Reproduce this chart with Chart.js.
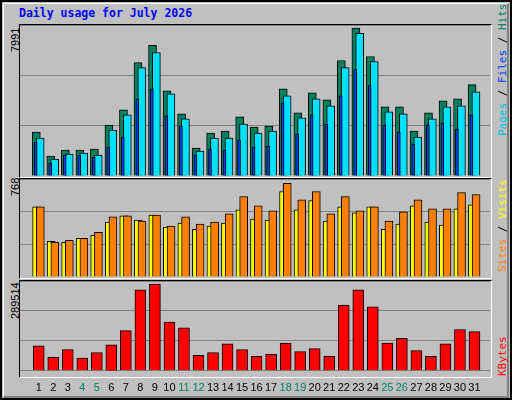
<!DOCTYPE html>
<html><head><meta charset="utf-8">
<script src="https://cdn.jsdelivr.net/npm/chart.js@4"></script>
<style>
body{margin:0;background:#fff}
#frame{position:absolute;left:0;top:0;width:508px;height:396px;background:#c0c0c0;border:2px solid #000}
#inner{position:absolute;left:1px;top:1px;width:503px;height:392px;border-left:1px solid #fff;border-top:1px solid #fff;border-right:2px solid #808080;border-bottom:2px solid #808080}
.t{position:absolute;font-family:"DejaVu Sans Mono",monospace;white-space:nowrap}
.rot{transform-origin:0 0;transform:rotate(-90deg)}
.panel{position:absolute;left:19px;width:471px;border-left:1px solid #000;border-top:1px solid #000;border-right:1px solid #fff;border-bottom:1px solid #fff;background:#c0c0c0}
canvas{position:absolute}
</style></head><body>
<div id="frame"><div id="inner"></div></div>
<div class="t" style="left:19px;top:6px;color:#0000ff;font-weight:bold;font-size:11.5px">Daily usage for July 2026</div>
<div class="panel" style="top:24px;height:152px"></div>
<div class="panel" style="top:178px;height:99px"></div>
<div class="panel" style="top:280px;height:96px"></div>
<div class="t rot" style="left:9px;top:52px;font-size:11px;color:#000;font-family:'Liberation Sans',sans-serif">7991</div>
<div class="t rot" style="left:9px;top:196px;font-size:11px;color:#000;font-family:'Liberation Sans',sans-serif">768</div>
<div class="t rot" style="left:9px;top:319px;font-size:11px;color:#000;font-family:'Liberation Sans',sans-serif">289514</div>
<div class="t rot" style="left:496px;top:136px;font-size:11px"><span style="color:#00c0e0">Pages</span><span style="color:#000"> / </span><span style="color:#0040ff">Files</span><span style="color:#000"> / </span><span style="color:#00805c">Hits</span></div>
<div class="t rot" style="left:496px;top:272px;font-size:11px"><span style="color:#ff8000">Sites</span><span style="color:#000"> / </span><span style="color:#ffff00">Visits</span></div>
<div class="t rot" style="left:496px;top:376px;font-size:11px;color:#ff0000">KBytes</div>
<canvas id="c1" style="left:20px;top:25px" width="470" height="151"></canvas>
<canvas id="c2" style="left:20px;top:179px" width="470" height="98"></canvas>
<canvas id="c3" style="left:20px;top:281px" width="470" height="117"></canvas>
<script>
const days=[1,2,3,4,5,6,7,8,9,10,11,12,13,14,15,16,17,18,19,20,21,22,23,24,25,26,27,28,29,30,31];
const weekend=[4,5,11,12,18,19,25,26];
const hits=[2375,1070,1397,1397,1451,2756,3571,6126,7050,4604,3354,1506,2321,2430,3191,2647,2702,4713,3408,4496,4115,6235,7991,6452,3735,3735,2430,3408,4061,4169,4930];
const pages=[2049,908,1180,1234,1125,2484,3300,5855,6670,4441,3082,1343,2049,2049,2810,2321,2430,4332,3136,4169,3789,5855,7703,6181,3463,3354,2104,3082,3735,3789,4550];
const files=[1832,690,1125,1125,1017,1560,2104,4169,4713,3245,2702,1125,1451,1397,1941,1560,1614,3952,2267,3300,2810,4332,5746,4876,2756,2375,1723,2756,2865,2539,3300];
const visits=[576,292,284,317,342,451,501,467,509,409,442,392,417,442,551,476,467,701,551,626,459,576,526,576,392,434,584,451,426,559,593];
const sites=[576,284,300,317,367,493,501,459,509,417,493,434,451,518,659,584,543,768,634,701,518,659,543,576,459,534,634,559,559,693,676];
const kbytes=[83473,45434,70793,42265,61284,86643,134190,270492,289514,162719,143700,51774,61284,89813,70793,48604,54944,92983,64453,73963,48604,219774,270492,213434,92983,108831,67623,48604,89813,137360,131020];

const pts=(arr,off)=>arr.map((v,i)=>({x:days[i]+off,y:v}));
const ds=(arr,off,color,w,order)=>({data:pts(arr,off),grouped:false,backgroundColor:color,borderColor:'#000',borderWidth:1,barThickness:w,order:order});
function opts(max,step,showX){
  return {responsive:false,animation:false,events:[],
    layout:{padding:0},
    plugins:{legend:{display:false},tooltip:{enabled:false}},
    scales:{
      x:{type:'linear',min:0.234,max:31.546,display:showX,
         grid:{display:false},border:{display:false},
         afterBuildTicks:s=>{s.ticks=days.map(d=>({value:d}));},
         ticks:{padding:3,autoSkip:false,maxRotation:0,font:{family:'Liberation Sans',size:11},
           color:c=>weekend.includes(c.tick&&c.tick.value)?'#008060':'#000',
           callback:v=>String(v)}},
      y:{min:0,max:max,ticks:{display:false,stepSize:step},border:{display:false},
         grid:{color:'#808080',lineWidth:1,drawTicks:false}}
    }};
}
new Chart(document.getElementById('c1'),{type:'bar',data:{datasets:[
  ds(files,-0.21,'#0040ff',3,0),
  ds(pages,0.1,'#00e0ff',8,1),
  ds(hits,-0.165,'#00805c',8,2)]},options:opts(8154,2718,false)});
new Chart(document.getElementById('c2'),{type:'bar',data:{datasets:[
  ds(sites,0.11,'#ff8000',8,0),
  ds(visits,-0.145,'#ffff00',8,1)]},options:opts(804,268,false)});
new Chart(document.getElementById('c3'),{type:'bar',data:{datasets:[
  ds(kbytes,0,'#ff0000',11,0)]},options:opts(300000,100000,true)});
</script></body></html>
